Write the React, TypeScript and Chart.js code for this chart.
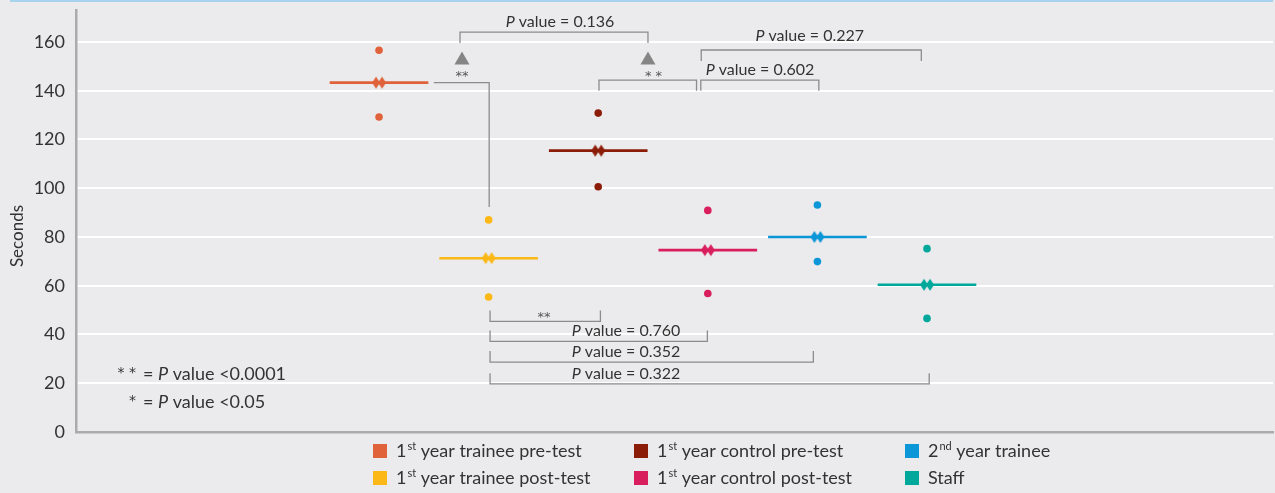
import React, { useEffect, useRef } from 'react';
import { Chart, registerables } from 'chart.js';

Chart.register(...registerables);

// ---- data ----
const categories = [
  '1st year trainee pre-test',
  '1st year trainee post-test',
  '1st year control pre-test',
  '1st year control post-test',
  '2nd year trainee',
  'Staff',
];
const meanValues = [143.3, 71.3, 115.4, 74.6, 80.0, 60.4];
const upperValues = [156.6, 87.0, 130.8, 90.9, 93.1, 75.2];
const lowerValues = [129.2, 55.4, 100.6, 56.8, 69.9, 46.6];
const yTickValues = [0, 20, 40, 60, 80, 100, 120, 140, 160];
const colors = ['#e0623a', '#fbb817', '#8b1c08', '#d91e5d', '#0b96d8', '#00a89b'];

// significance annotations (x in category units, y in seconds)
const pBrackets = [
  { x1: 0.739, x2: 2.454, yBar: 164.0, yEnd: 159.6, label: '0.136', lx: 1.651, ly: 168.4 },
  { x1: 2.007, x2: 2.897, yBar: 144.3, yEnd: 140.0, label: '', lx: 0, ly: 0 },
  { x1: 2.936, x2: 4.013, yBar: 144.3, yEnd: 140.0, label: '0.602', lx: 3.476, ly: 148.5 },
  { x1: 2.94, x2: 4.948, yBar: 156.7, yEnd: 152.2, label: '0.227', lx: 3.93, ly: 162.5 },
  { x1: 1.013, x2: 2.02, yBar: 45.4, yEnd: 49.8, label: '', lx: 0, ly: 0 },
  { x1: 1.013, x2: 2.996, yBar: 37.2, yEnd: 41.6, label: '0.760', lx: 2.254, ly: 41.4 },
  { x1: 1.013, x2: 3.963, yBar: 28.7, yEnd: 33.2, label: '0.352', lx: 2.254, ly: 32.8 },
  { x1: 1.013, x2: 5.02, yBar: 19.7, yEnd: 24.1, label: '0.322', lx: 2.254, ly: 24.0 },
];
const triangles = [
  { x: 0.757, y: 153.4 },
  { x: 2.454, y: 153.4 },
];
const starLabels = [
  { x: 0.757, y: 146.5, text: '**' },
  { x: 2.504, y: 146.5, text: '* *' },
  { x: 1.505, y: 47.6, text: '**' },
];
const elbow = { xStart: 0.5, xEnd: 1.005, yStart: meanValues[0], yEnd: 92.3 };
const footnotes = [
  { stars: '* *', text: ' value <0.0001' },
  { stars: '*', text: ' value <0.05' },
];

const FONT = 'Lato, "Open Sans", sans-serif';
const STAR_FONT = '"DejaVu Sans", sans-serif';
const TEXT = '#333333';
const LINE = '#8c8c8c';
const HW = 0.45;

function makeDoubleDiamond(color: string) {
  const c = document.createElement('canvas');
  c.width = 16;
  c.height = 14;
  const g = c.getContext('2d')!;
  g.fillStyle = color;
  for (const cx of [5, 11]) {
    g.beginPath();
    g.moveTo(cx, 1);
    g.lineTo(cx + 4, 7);
    g.lineTo(cx, 13);
    g.lineTo(cx - 4, 7);
    g.closePath();
    g.fill();
  }
  return c;
}

function drawP(ctx: CanvasRenderingContext2D, cx: number, cy: number, rest: string, size: number, align: 'center' | 'left') {
  const it = `italic ${size}px ${FONT}`;
  const nm = `${size}px ${FONT}`;
  ctx.font = it;
  const wP = ctx.measureText('P').width;
  ctx.font = nm;
  const wR = ctx.measureText(rest).width;
  const x = align === 'center' ? cx - (wP + wR) / 2 : cx;
  ctx.textAlign = 'left';
  ctx.textBaseline = 'middle';
  ctx.fillStyle = TEXT;
  ctx.font = it;
  ctx.fillText('P', x, cy);
  ctx.font = nm;
  ctx.fillText(rest, x + wP, cy);
}

const annotPlugin = {
  id: 'annot',
  beforeDraw(chart: any) {
    const { ctx, width, height, chartArea } = chart;
    ctx.save();
    ctx.fillStyle = '#ebebed';
    ctx.fillRect(0, 0, width, height);
    ctx.fillStyle = '#a8d3ef';
    ctx.fillRect(10, 0, chartArea.right - 10, 2);
    ctx.restore();
  },
  afterDatasetsDraw(chart: any) {
    const { ctx } = chart;
    const xs = chart.scales.x;
    const ys = chart.scales.y;
    const X = (v: number) => xs.getPixelForValue(v);
    const Y = (v: number) => ys.getPixelForValue(v);
    ctx.save();
    ctx.strokeStyle = LINE;
    ctx.lineWidth = 1.3;
    for (const b of pBrackets) {
      ctx.beginPath();
      ctx.moveTo(X(b.x1), Y(b.yEnd));
      ctx.lineTo(X(b.x1), Y(b.yBar));
      ctx.lineTo(X(b.x2), Y(b.yBar));
      ctx.lineTo(X(b.x2), Y(b.yEnd));
      ctx.stroke();
      if (b.label) drawP(ctx, X(b.lx), Y(b.ly), ' value = ' + b.label, 16, 'center');
    }
    ctx.beginPath();
    ctx.moveTo(X(elbow.xStart), Y(elbow.yStart));
    ctx.lineTo(X(elbow.xEnd), Y(elbow.yStart));
    ctx.lineTo(X(elbow.xEnd), Y(elbow.yEnd));
    ctx.stroke();
    ctx.fillStyle = '#858585';
    for (const t of triangles) {
      const px = X(t.x);
      const py = Y(t.y);
      ctx.beginPath();
      ctx.moveTo(px, py - 6.5);
      ctx.lineTo(px + 7.5, py + 6.5);
      ctx.lineTo(px - 7.5, py + 6.5);
      ctx.closePath();
      ctx.fill();
    }
    ctx.fillStyle = '#555';
    ctx.font = `13px ${STAR_FONT}`;
    ctx.textAlign = 'center';
    ctx.textBaseline = 'middle';
    for (const s of starLabels) ctx.fillText(s.text, X(s.x), Y(s.y) + 2);
    ctx.restore();
  },
  afterDraw(chart: any) {
    const { ctx } = chart;
    ctx.save();
    ctx.translate(18, 236);
    ctx.rotate(-Math.PI / 2);
    ctx.fillStyle = TEXT;
    ctx.font = `17px ${FONT}`;
    ctx.textAlign = 'center';
    ctx.textBaseline = 'middle';
    ctx.fillText('Seconds', 0, 0);
    ctx.restore();

    ctx.save();
    footnotes.forEach((f, i) => {
      const cy = 374 + i * 28;
      ctx.fillStyle = TEXT;
      ctx.font = `14px ${STAR_FONT}`;
      ctx.textAlign = 'right';
      ctx.textBaseline = 'middle';
      ctx.fillText(f.stars, 136, cy - 1);
      ctx.font = `18px ${FONT}`;
      ctx.textAlign = 'left';
      ctx.fillText('=', 143, cy);
      drawP(ctx, 158, cy, f.text, 18, 'left');
    });
    ctx.restore();

    ctx.save();
    const colX = [373, 634, 905];
    const rowY = [451, 478];
    categories.forEach((cat, i) => {
      const col = Math.floor(i / 2);
      const row = i % 2;
      const sx = colX[col];
      const cy = rowY[row];
      ctx.fillStyle = colors[i];
      ctx.fillRect(sx, cy - 7, 14, 14);
      const m = cat.match(/^(\d+)(st|nd|rd|th)(.*)$/);
      let x = sx + 23;
      ctx.fillStyle = TEXT;
      ctx.textAlign = 'left';
      ctx.textBaseline = 'middle';
      if (m) {
        ctx.font = `18px ${FONT}`;
        ctx.fillText(m[1], x, cy);
        x += ctx.measureText(m[1]).width + 1;
        ctx.font = `11px ${FONT}`;
        ctx.fillText(m[2], x, cy - 5);
        x += ctx.measureText(m[2]).width;
        ctx.font = `18px ${FONT}`;
        ctx.fillText(m[3], x, cy);
      } else {
        ctx.font = `18px ${FONT}`;
        ctx.fillText(cat, x, cy);
      }
    });
    ctx.restore();
  },
};

export default function App() {
  const ref = useRef<HTMLCanvasElement>(null);
  useEffect(() => {
    document.body.style.margin = '0';
    const canvas = ref.current!;
    const datasets: any[] = [];
    categories.forEach((cat, i) => {
      datasets.push({
        label: cat + ' mean',
        data: [{ x: i, y: meanValues[i] }],
        pointStyle: makeDoubleDiamond(colors[i]),
        pointRadius: 7,
        pointHoverRadius: 7,
        order: 0,
      });
      datasets.push({
        label: cat,
        data: [
          { x: i, y: upperValues[i] },
          { x: i, y: lowerValues[i] },
        ],
        backgroundColor: colors[i],
        borderColor: colors[i],
        borderWidth: 0,
        pointRadius: 3.8,
        pointHoverRadius: 3.8,
        order: 1,
      });
      datasets.push({
        label: cat + ' line',
        data: [
          { x: i - HW, y: meanValues[i] },
          { x: i + HW, y: meanValues[i] },
        ],
        showLine: true,
        borderColor: colors[i],
        backgroundColor: colors[i],
        borderWidth: 2.6,
        pointRadius: 0,
        pointHoverRadius: 0,
        order: 2,
      });
    });

    const chart = new Chart(canvas, {
      type: 'scatter',
      data: { datasets },
      options: {
        animation: false,
        responsive: false,
        devicePixelRatio: 1,
        events: [],
        layout: { autoPadding: false, padding: { top: 10, right: 2, left: 0, bottom: 0 } },
        plugins: { legend: { display: false }, tooltip: { enabled: false } },
        scales: {
          x: {
            type: 'linear',
            min: -2.765,
            max: 8.157,
            ticks: { display: false },
            grid: { display: false },
            border: { display: true, color: '#ababab', width: 2.5 },
            afterFit: (s: any) => {
              s.height = 61;
              s.paddingLeft = 0;
              s.paddingRight = 0;
            },
          },
          y: {
            type: 'linear',
            min: 0,
            max: 173.1,
            afterBuildTicks: (s: any) => {
              s.ticks = yTickValues.map((v) => ({ value: v }));
            },
            ticks: {
              padding: 11,
              color: '#333',
              font: { family: FONT, size: 18 },
            },
            grid: {
              drawTicks: false,
              lineWidth: 2,
              color: (c: any) => (c.tick && c.tick.value === 0 ? 'rgba(0,0,0,0)' : '#ffffff'),
            },
            border: { display: true, color: '#ababab', width: 2.5 },
            afterFit: (s: any) => {
              s.width = 76;
              s.paddingTop = 0;
              s.paddingBottom = 0;
            },
          },
        },
      },
      plugins: [annotPlugin],
    } as any);
    return () => chart.destroy();
  }, []);

  return (
    <div style={{ position: 'fixed', left: 0, top: 0, width: 1275, height: 493, background: '#ebebed' }}>
      <canvas ref={ref} width={1275} height={493} style={{ display: 'block', width: 1275, height: 493 }} />
    </div>
  );
}
